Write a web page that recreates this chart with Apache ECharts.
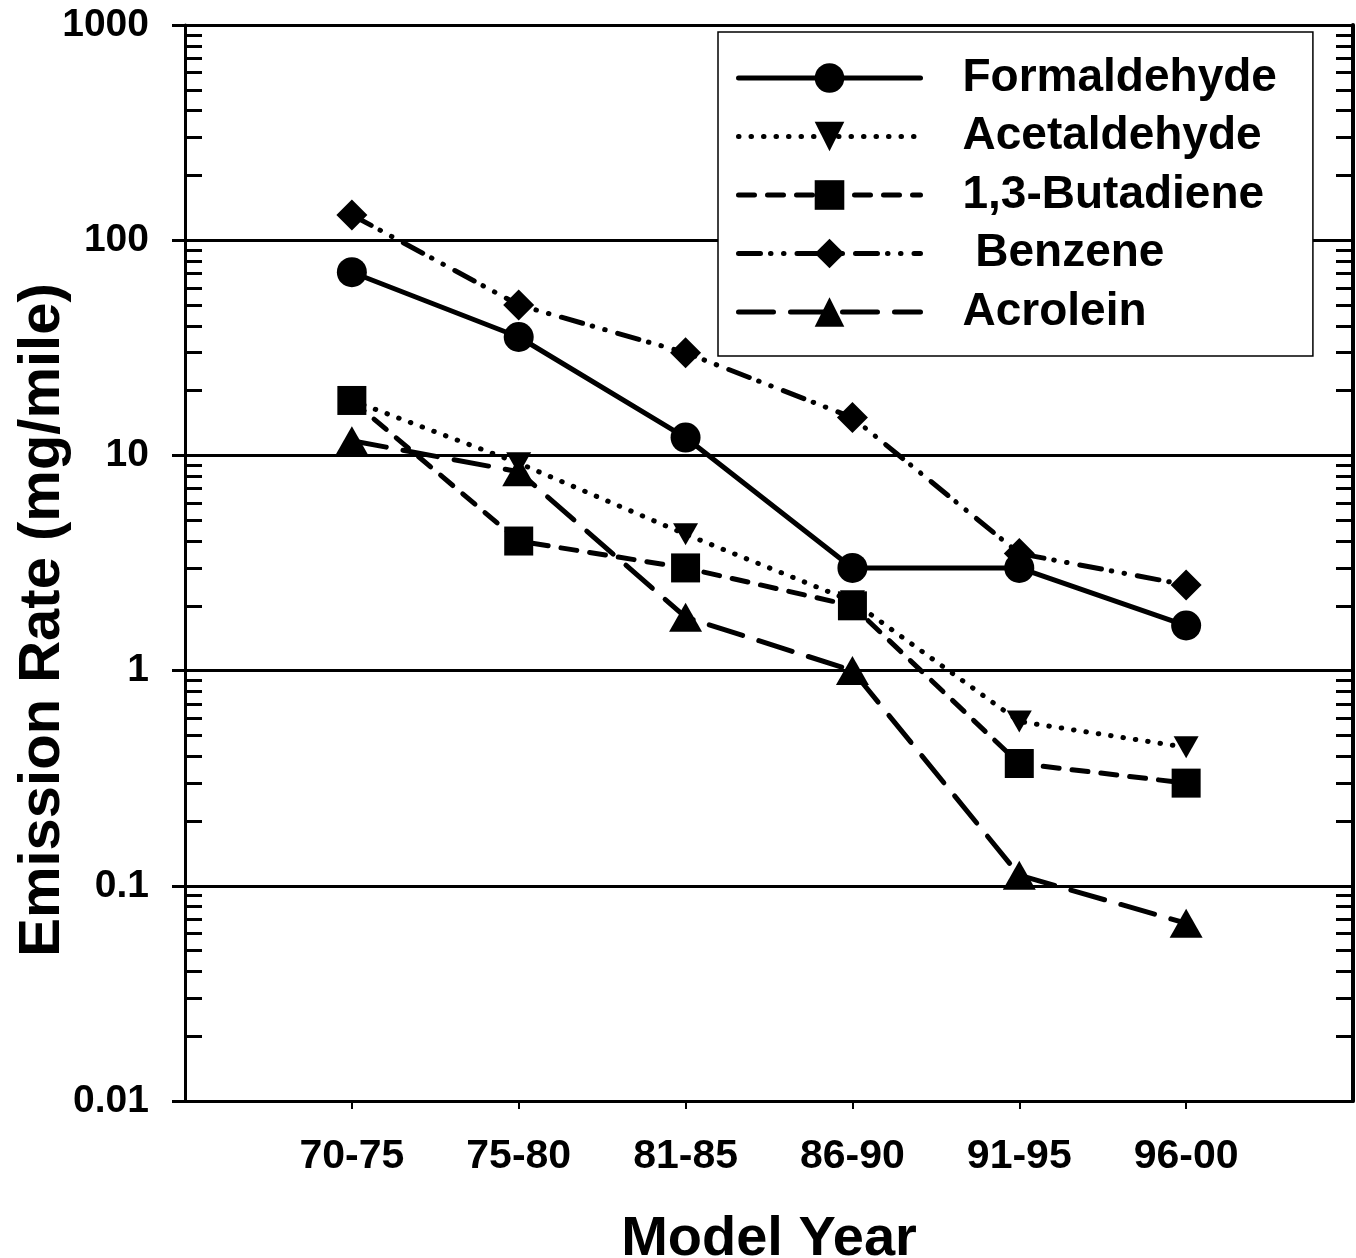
<!DOCTYPE html>
<html lang="en">
<head>
    <meta charset="UTF-8">
    <title>Emission Rate by Model Year</title>
    <script src="https://cdn.jsdelivr.net/npm/echarts@6/dist/echarts.min.js"></script>
    <style>
        html, body { margin: 0; padding: 0; background: #fff; }
        #main { width: 1356px; height: 1258px; }
    </style>
</head>
<body>
<div id="main"></div>
<script>
    // categories and values (mg/mile)
    var modelYears = ['70-75', '75-80', '81-85', '86-90', '91-95', '96-00'];
    var formaldehyde = [71, 35.5, 12.1, 3.0, 3.0, 1.62];
    var acetaldehyde = [18, 9.2, 4.3, 2.1, 0.58, 0.44];
    var butadiene = [18, 4.0, 3.0, 2.0, 0.37, 0.30];
    var benzene = [131, 50, 30, 15, 3.5, 2.5];
    var acrolein = [11.7, 8.4, 1.77, 1.0, 0.112, 0.067];
    var yTickLabels = ['0.01', '0.1', '1', '10', '100', '1000'];

    var font = "'Liberation Sans', Arial, Helvetica, sans-serif";

    // minor ticks 2..9 inside each decade
    var minorTicks = [];
    for (var d = 0; d < yTickLabels.length - 1; d++) {
        var base = parseFloat(yTickLabels[d]);
        for (var k = 2; k <= 9; k++) minorTicks.push(+(base * k).toPrecision(3));
    }

    function pts(arr) {
        return arr.map(function (v, i) { return [i + 1, v]; });
    }

    var myChart = echarts.init(document.getElementById('main'));

    function line(name, data, symbol, size, dash) {
        return {
            name: name,
            type: 'line',
            data: pts(data),
            symbol: symbol,
            symbolSize: size,
            itemStyle: { color: '#000' },
            lineStyle: { color: '#000', width: 5, type: dash, cap: 'round' },
            emphasis: { disabled: true },
            animation: false
        };
    }

    var option = {
        backgroundColor: '#fff',
        grid: { left: 185, right: 3, top: 25, bottom: 157, containLabel: false, outerBoundsMode: 'none' },
        legend: {
            orient: 'vertical',
            left: 718,
            top: 32,
            padding: [23, 36, 21, 18],
            itemWidth: 182,
            itemHeight: 37,
            itemGap: 12.5,
            backgroundColor: '#fff',
            borderColor: '#000',
            borderWidth: 1.5,
            borderRadius: 0,
            selectedMode: false,
            lineStyle: { width: 5, cap: 'round' },
            textStyle: {
                fontFamily: font, fontWeight: 'bold', fontSize: 46,
                lineHeight: 46, color: '#000', padding: [0, 0, 0, 37]
            },
            data: ['Formaldehyde', 'Acetaldehyde', '1,3-Butadiene', ' Benzene', 'Acrolein']
        },
        xAxis: [{
            type: 'value',
            min: 0,
            max: 7,
            interval: 1,
            position: 'bottom',
            name: 'Model Year',
            nameLocation: 'middle',
            nameGap: 111,
            nameMoveOverlap: false,
            nameTextStyle: { fontFamily: font, fontWeight: 'bold', fontSize: 56, color: '#000' },
            axisLine: { show: true, lineStyle: { color: '#000', width: 3 } },
            axisTick: { show: true, inside: false, length: 8, lineStyle: { color: '#000', width: 2 },
                customValues: [1, 2, 3, 4, 5, 6] },
            axisLabel: {
                margin: 35, fontFamily: font, fontWeight: 'bold', fontSize: 41, color: '#000',
                customValues: [1, 2, 3, 4, 5, 6],
                formatter: function (v) { return modelYears[v - 1] || ''; }
            },
            splitLine: { show: false }
        }, {
            type: 'value',
            min: 0,
            max: 7,
            position: 'top',
            axisLine: { show: true, lineStyle: { color: '#000', width: 3 } },
            axisTick: { show: false },
            axisLabel: { show: false },
            splitLine: { show: false }
        }],
        yAxis: [{
            type: 'log',
            logBase: 10,
            min: 0.01,
            max: 1000,
            interval: 1,
            position: 'left',
            name: 'Emission Rate (mg/mile)',
            nameLocation: 'middle',
            nameRotate: 90,
            nameGap: 113,
            nameMoveOverlap: false,
            nameTextStyle: {
                fontFamily: font, fontWeight: 'bold', fontSize: 58, color: '#000',
                padding: [0, 114, 0, 0]
            },
            axisLine: { show: true, lineStyle: { color: '#000', width: 3 } },
            axisTick: { show: true, inside: false, length: 13, lineStyle: { color: '#000', width: 3 } },
            axisLabel: {
                margin: 36, fontFamily: font, fontWeight: 'bold', fontSize: 39, color: '#000',
                formatter: function (v) {
                    return yTickLabels[Math.round(Math.log10(v)) + 2] || '';
                }
            },
            splitLine: { show: true, lineStyle: { color: '#000', width: 3 } }
        }, {
            type: 'log',
            logBase: 10,
            min: 0.01,
            max: 1000,
            position: 'left',
            axisLine: { show: false },
            axisTick: { show: true, inside: true, length: 17, customValues: minorTicks,
                lineStyle: { color: '#000', width: 3 } },
            axisLabel: { show: false },
            splitLine: { show: false }
        }, {
            type: 'log',
            logBase: 10,
            min: 0.01,
            max: 1000,
            position: 'right',
            axisLine: { show: true, lineStyle: { color: '#000', width: 4 } },
            axisTick: { show: true, inside: true, length: 17, customValues: minorTicks,
                lineStyle: { color: '#000', width: 3 } },
            axisLabel: { show: false },
            splitLine: { show: false }
        }],
        series: [
            line('Formaldehyde', formaldehyde, 'circle', 30, 'solid'),
            line('Acetaldehyde', acetaldehyde, 'path://M0,0 L10,0 L5,9 Z', [25, 22], [0.5, 12]),
            line('1,3-Butadiene', butadiene, 'rect', 29, [16, 13]),
            line(' Benzene', benzene, 'diamond', 31, [22, 10, 0.5, 12.5, 0.5, 13]),
            line('Acrolein', acrolein, 'triangle', [33, 29], [35, 17])
        ]
    };
    myChart.setOption(option);
</script>
</body>
</html>
